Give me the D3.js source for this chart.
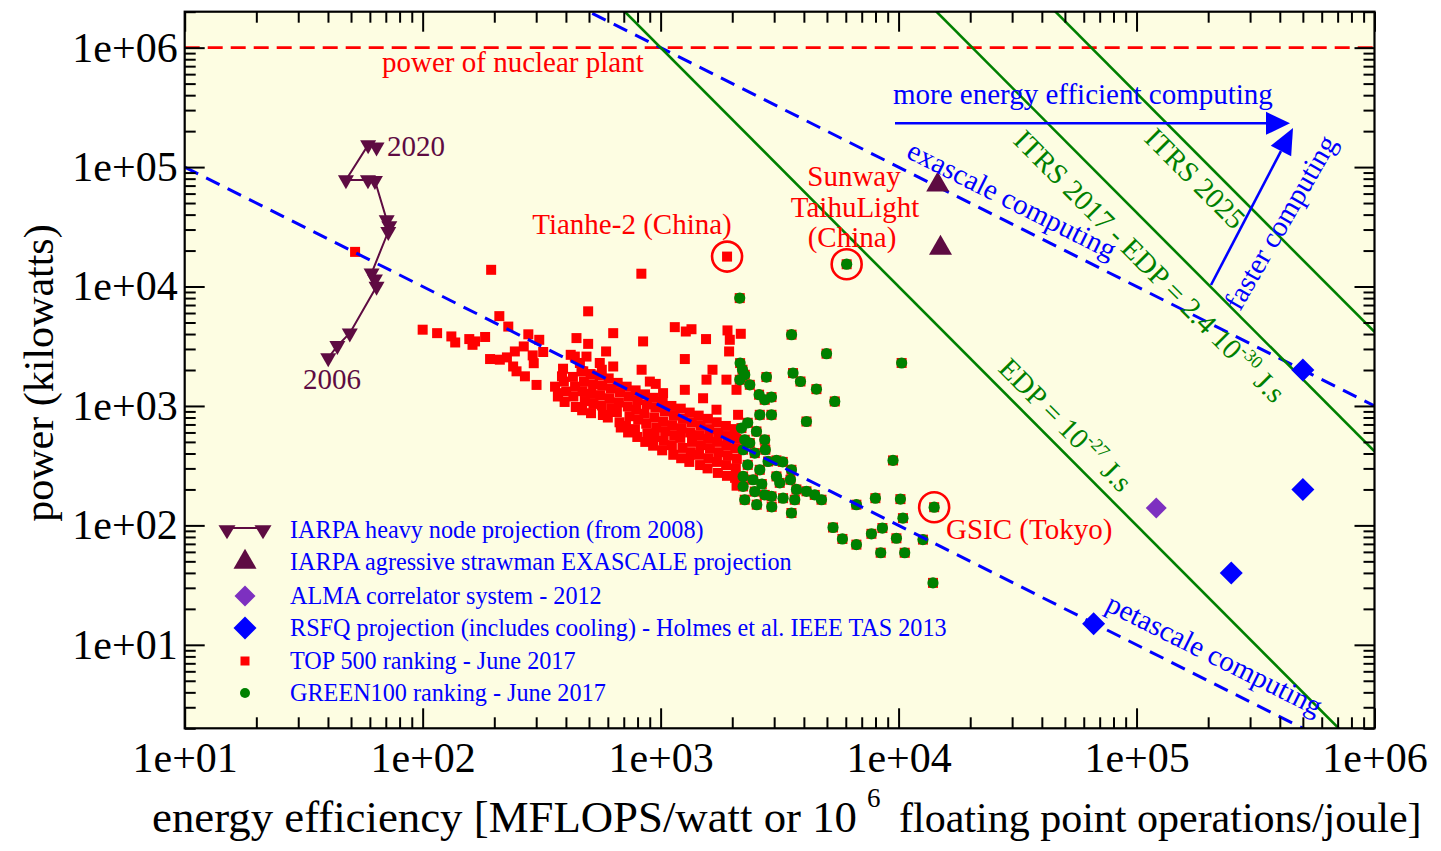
<!DOCTYPE html>
<html><head><meta charset="utf-8">
<script src="https://cdn.jsdelivr.net/npm/d3@7"></script>
<style>
body{margin:0;background:#fff;}
svg{display:block;}
text{font-family:"Liberation Serif","Times New Roman",Times,serif;}
</style>
</head><body>
<svg id="chart" width="1441" height="851"></svg>
<script>
// ---------------- DATA ----------------
// x: energy efficiency [MFLOPS/W], y: power [kW]
const xTickValues = [1e1, 1e2, 1e3, 1e4, 1e5, 1e6];
const yTickValues = [1e1, 1e2, 1e3, 1e4, 1e5, 1e6];

const iarpaHeavy = [[40.1,2520],[43.8,3190],[49.4,4070],[64.0,10000],[63.0,11500],[61.0,12950],
  [71.7,28850],[72.4,32200],[70.6,36150],[63.0,77100],[58.9,78100],[47.6,78100],[59.0,153500],[64.0,146800]];
const iarpaStrawman = [[14600,71000],[15000,21000]];
const alma = [[121000,140]];
const rsfq = [[500000,2000],[500000,200],[250000,40],[66000,15]];

const top500 = [
  [52,19500],[194,13800],[830,12800],[1902,17808],[496,6200],
  [100,4350],[115,4070],[132,3820],[137,3400],[157,3630],[166,3470],[162,3250],[183,3780],[210,5650],[229,4620],
  [278,3980],[309,3580],[321,2830],[192,2470],[211,2440],[226,2550],[244,2860],[266,3150],[240,2140],[248,1950],
  [269,1770],[290,2650],[293,2280],[301,1500],[443,3700],[496,3310],[632,4070],[590,2860],[419,2680],[436,2590],
  [488,2590],[389,2050],[385,1770],[371,1280],[458,2290],[473,1950],[555,2290],[566,2010],[632,2140],[844,3470],
  [1147,4570],[1276,4200],[1348,4390],[1552,3630],[1910,4290],[1953,3580],[2172,4020],[1940,2860],[1264,2470],
  [832,2010],[1652,2010],[901,1600],[954,1530],[1559,1660],[1891,1660],[1264,1365],[2084,1365],[1508,1160],
  [1717,930],[2116,843],[1024,1280],
  [360,1450],[370,1200],
  [392,1600],[401,1320],[395,1080],
  [428,1750],[437,1450],[430,1200],[440,980],
  [465,1950],[476,1600],[470,1330],[480,1100],[468,920],
  [508,1850],[520,1520],[512,1260],[522,1040],[510,870],
  [555,1800],[568,1480],[558,1230],[566,1010],[572,840],
  [605,1700],[618,1400],[610,1160],[622,960],[600,800],
  [660,1560],[675,1300],[668,1070],[655,890],[672,730],[680,660],
  [720,1450],[735,1200],[728,990],[740,820],[715,680],[730,600],
  [785,1350],[800,1120],[790,930],[805,770],[780,640],[798,550],
  [860,1250],[875,1030],[855,860],[870,710],[880,590],[862,500],
  [935,1170],[950,970],[940,800],[958,660],[945,550],[930,465],
  [1020,1080],[1040,900],[1025,740],[1045,615],[1030,510],[1015,425],
  [1110,1000],[1135,830],[1120,690],[1140,570],[1115,470],[1130,390],
  [1215,950],[1240,780],[1225,650],[1210,540],[1235,445],[1220,365],
  [1325,880],[1350,730],[1330,600],[1355,500],[1340,410],[1320,340],
  [1445,830],[1470,690],[1455,570],[1475,470],[1450,390],[1465,320],
  [1580,780],[1600,640],[1585,530],[1610,440],[1590,365],[1575,300],
  [1720,730],[1745,600],[1730,500],[1750,410],[1725,340],[1740,275],
  [1880,680],[1905,560],[1890,465],[1910,385],[1885,320],[1900,260],
  [2050,640],[2080,530],[2060,440],[2090,360],[2070,300],[2055,250],[2085,215]
];

const green100 = [
  [6051,15371],[2150,8000],[3550,3950],[4980,2740],[10300,2290],[2158,2285],[2208,2010],[2257,1825],[2370,1503],
  [2784,1746],[3601,1885],[3870,1603],[4516,1383],[5393,1091],[2593,1242],[2739,1127],[2923,1186],[2610,843],
  [2923,843],[4101,741],[2186,653],[2528,612],[2739,521],[2370,489],[2221,430],[2487,403],[3068,350],[2828,343],
  [3546,292],[9477,350],[2221,257],[2446,241],[3068,257],[3167,227],[2221,212],[2487,192],[2739,180],[2923,175],
  [3270,169],[3722,200],[4101,193],[3662,164],[4742,164],[3546,127],[6649,149],[7990,169],[10180,166],[14110,142],
  [10430,115],[5303,96],[8551,95],[7688,85],[9793,78],[5807,77],[12660,76],[6649,69],[8412,59],[10610,59],[13950,33],
  [2151,1656],[2257,521],[2610,292],[2323,321],[2661,222],[2257,164],[2535,149],[2931,143],[2323,723],[2754,430],
  [3260,340],[3513,241],[4443,180]
];

const highlightNames = ["Tianhe-2", "Sunway TaihuLight", "GSIC"];
const highlightEff = [1902, 6051, 14110];
const highlightPow = [17808, 15371, 142];

const nuclearPlantPower = 1e6;           // kW
const scaleFlops = [1e15, 1e18];          // petascale, exascale
const edpValues = [1e-27, 2.4e-30, 2.4e-31]; // J.s  (EDP 1e-27, ITRS 2017, ITRS 2025)

const legendLabels = [
  "IARPA heavy node projection (from 2008)",
  "IARPA agressive strawman EXASCALE projection",
  "ALMA correlator system - 2012",
  "RSFQ projection (includes cooling) - Holmes et al. IEEE TAS 2013",
  "TOP 500 ranking - June 2017",
  "GREEN100 ranking - June 2017"
];

// ---------------- STYLE / LAYOUT ----------------
const C = {red:"#ff0000", green:"#008000", blue:"#0000ff", maroon:"#5e0b42", violet:"#7d30c0", bg:"#fdfde2"};
const M = {l:184.7, r:1374.5, t:11.7, b:728.3};
const svg = d3.select("#chart");
svg.append("rect").attr("width",1441).attr("height",851).attr("fill","#fff");

const x = d3.scaleLog().domain([10,1e6]).range([M.l,M.r]);
const y = d3.scaleLog().domain([2,2e6]).range([M.b,M.t]);

svg.append("defs").append("clipPath").attr("id","clip")
  .append("rect").attr("x",M.l).attr("y",M.t).attr("width",M.r-M.l).attr("height",M.b-M.t);

svg.append("rect").attr("x",M.l).attr("y",M.t).attr("width",M.r-M.l).attr("height",M.b-M.t).attr("fill",C.bg);

const plot = svg.append("g").attr("clip-path","url(#clip)");

// symbol helpers
function triDown(w,h){ return `M${-w/2},${-h/3}L${w/2},${-h/3}L0,${2*h/3}Z`; }
function triUp(w,h){ return `M${-w/2},${h/3}L${w/2},${h/3}L0,${-2*h/3}Z`; }
function diamond(w,h){ return `M0,${-h/2}L${w/2},0L0,${h/2}L${-w/2},0Z`; }

// TOP500 squares
const SQ = 10;
plot.append("g").selectAll("rect").data(top500).join("rect")
  .attr("x",d=>x(d[0])-SQ/2).attr("y",d=>y(d[1])-SQ/2).attr("width",SQ).attr("height",SQ).attr("fill",C.red);
// GREEN100: also in TOP500 (red square beneath), green dot on top
const gG = plot.append("g");
gG.selectAll("rect").data(green100).join("rect")
  .attr("x",d=>x(d[0])-SQ/2).attr("y",d=>y(d[1])-SQ/2).attr("width",SQ).attr("height",SQ).attr("fill",C.red);
gG.selectAll("circle").data(green100).join("circle")
  .attr("cx",d=>x(d[0])).attr("cy",d=>y(d[1])).attr("r",5.6).attr("fill",C.green);

// reference lines
const xd = x.domain();
plot.append("line").attr("x1",M.l).attr("x2",M.r).attr("y1",y(nuclearPlantPower)).attr("y2",y(nuclearPlantPower))
  .attr("stroke",C.red).attr("stroke-width",2.6).attr("stroke-dasharray","15,8");
scaleFlops.forEach(F=>{
  const p = E => F/(1e9*E);
  plot.append("line").attr("x1",x(xd[0])).attr("y1",y(p(xd[0]))).attr("x2",x(xd[1])).attr("y2",y(p(xd[1])))
    .attr("stroke",C.blue).attr("stroke-width",3).attr("stroke-dasharray","15,9");
});
edpValues.forEach(edp=>{
  const p = E => 1/(edp*1e15*E*E);
  plot.append("line").attr("x1",x(xd[0])).attr("y1",y(p(xd[0]))).attr("x2",x(xd[1])).attr("y2",y(p(xd[1])))
    .attr("stroke",C.green).attr("stroke-width",2.6);
});

// IARPA heavy node
plot.append("path").datum(iarpaHeavy)
  .attr("d", d3.line().x(d=>x(d[0])).y(d=>y(d[1])))
  .attr("fill","none").attr("stroke",C.maroon).attr("stroke-width",2);
plot.append("g").selectAll("path").data(iarpaHeavy).join("path")
  .attr("transform",d=>`translate(${x(d[0])},${y(d[1])})`).attr("d",triDown(16,14)).attr("fill",C.maroon);
// strawman
plot.append("g").selectAll("path").data(iarpaStrawman).join("path")
  .attr("transform",d=>`translate(${x(d[0])},${y(d[1])})`).attr("d",triUp(23,20)).attr("fill",C.maroon);
// ALMA
plot.append("g").selectAll("path").data(alma).join("path")
  .attr("transform",d=>`translate(${x(d[0])},${y(d[1])})`).attr("d",diamond(21,21)).attr("fill",C.violet);
// RSFQ
plot.append("g").selectAll("path").data(rsfq).join("path")
  .attr("transform",d=>`translate(${x(d[0])},${y(d[1])})`).attr("d",diamond(23,23)).attr("fill",C.blue);
// highlight circles
plot.append("g").selectAll("circle").data(highlightEff).join("circle")
  .attr("cx",(d)=>x(d)).attr("cy",(d,i)=>y(highlightPow[i])).attr("r",15)
  .attr("fill","none").attr("stroke",C.red).attr("stroke-width",2.6);

// ---------------- ANNOTATIONS ----------------
const ann = svg.append("g");
function label(txt, px, py, size, color, anchor, angle){
  return ann.append("text").attr("transform",`translate(${px},${py}) rotate(${angle||0})`)
    .attr("font-size",size).attr("fill",color).attr("text-anchor",anchor||"start").text(txt);
}
const A = 29;
label("power of nuclear plant", 382, 72, A, C.red);
label("Tianhe-2 (China)", 632, 234, A, C.red, "middle");
label("Sunway", 854, 186, A, C.red, "middle");
label("TaihuLight", 855, 216.5, A, C.red, "middle");
label("(China)", 852, 246.5, A, C.red, "middle");
label("GSIC (Tokyo)", 946, 539, A, C.red);
label("2020", 387, 156, A, C.maroon);
label("2006", 303, 389, A, C.maroon);
label("more energy efficient computing", 893, 104, A, C.blue);

const angFlops = Math.atan2(y(1e4)-y(1e5), x(100)-x(10))*180/Math.PI;
const angEdp = Math.atan2(2*(y(1e4)-y(1e5)), x(100)-x(10))*180/Math.PI;
label("exascale computing", 905, 157, A, C.blue, "start", angFlops);
label("petascale computing", 1104, 610, A, C.blue, "start", angFlops);
label("faster computing", 1240, 312, A, C.blue, "start", -60);
label("ITRS 2025", 1143, 140, A, C.green, "start", angEdp);

function supLabel(before, sup, after, px, py, size, color, angle){
  const t = ann.append("text").attr("transform",`translate(${px},${py}) rotate(${angle})`)
    .attr("font-size",size).attr("fill",color);
  t.append("tspan").text(before);
  t.append("tspan").attr("font-size",size*0.62).attr("dy",-size*0.42).text(sup);
  t.append("tspan").attr("dy",size*0.42).text(after);
  return t;
}
supLabel("ITRS 2017 - EDP = 2.4 10", "-30", " J.s", 1012, 142, A, C.green, angEdp);
supLabel("EDP = 10", "-27", " J.s", 997, 370, A, C.green, angEdp);

// arrows
function arrow(x1,y1,x2,y2,color,len,half){
  const a = Math.atan2(y2-y1,x2-x1);
  const bx = x2 - len*Math.cos(a), by = y2 - len*Math.sin(a);
  ann.append("line").attr("x1",x1).attr("y1",y1).attr("x2",bx).attr("y2",by).attr("stroke",color).attr("stroke-width",2.6);
  const px = -Math.sin(a)*half, py = Math.cos(a)*half;
  ann.append("path").attr("d",`M${x2},${y2}L${bx+px},${by+py}L${bx-px},${by-py}Z`).attr("fill",color);
}
arrow(895,123.3,1290,123.3,C.blue,24,11.5);
arrow(1211,285,1293,128,C.blue,26,11.5);

// ---------------- AXES ----------------
function minors(lo,hi){ const v=[]; for(let e=0;e<7;e++){ for(let k=2;k<10;k++){ const t=k*Math.pow(10,e); if(t>=lo&&t<=hi) v.push(t);} } return v; }
const fmt = d => "1e+" + String(Math.round(Math.log10(d))).padStart(2,"0");
const minX = minors(10,1e6), minY = minors(2,2e6);
const ax = svg.append("g").attr("font-family",'"Liberation Serif","Times New Roman",serif');
function drawAxis(gen, tr, vals, size, labels, pad){
  const g = ax.append("g").attr("transform",tr)
    .call(gen.tickValues(vals).tickSize(-size).tickPadding(pad||0).tickFormat(labels?fmt:""));
  g.select(".domain").remove();
  g.selectAll(".tick line").attr("stroke","#000").attr("stroke-width",2);
  g.selectAll(".tick text").attr("font-size",42).attr("fill","#000");
  g.attr("font-size",42).attr("font-family",null);
  return g;
}
drawAxis(d3.axisBottom(x), `translate(0,${M.b})`, minX, 11, false);
drawAxis(d3.axisBottom(x), `translate(0,${M.b})`, xTickValues, 20, true, 14);
drawAxis(d3.axisTop(x), `translate(0,${M.t})`, minX, 11, false);
drawAxis(d3.axisTop(x), `translate(0,${M.t})`, xTickValues, 20, false);
drawAxis(d3.axisLeft(y), `translate(${M.l},0)`, minY, 11, false);
drawAxis(d3.axisLeft(y), `translate(${M.l},0)`, yTickValues, 20, true, 7);
drawAxis(d3.axisRight(y), `translate(${M.r},0)`, minY, 11, false);
drawAxis(d3.axisRight(y), `translate(${M.r},0)`, yTickValues, 20, false);

svg.append("rect").attr("x",M.l).attr("y",M.t).attr("width",M.r-M.l).attr("height",M.b-M.t)
  .attr("fill","none").attr("stroke","#000").attr("stroke-width",2.2);

// axis titles
svg.append("text").attr("transform","translate(53,373) rotate(-90)").attr("text-anchor","middle")
  .attr("font-size",42).attr("fill","#000").text("power (kilowatts)");
const xt = svg.append("text").attr("x",152).attr("y",832).attr("text-anchor","start").attr("font-size",44.8).attr("fill","#000");
xt.append("tspan").text("energy efficiency [MFLOPS/watt or 10");
xt.append("tspan").attr("font-size",27).attr("dy",-25).attr("dx",10).text("6");
xt.append("tspan").attr("font-size",42).attr("dy",25).attr("dx",8).text(" floating point operations/joule]");

// ---------------- LEGEND ----------------
const legY = [530, 562, 596, 628, 661, 693];
const lg = svg.append("g");
lg.selectAll("text").data(legendLabels).join("text")
  .attr("x",290).attr("y",(d,i)=>legY[i]).attr("dy","0.35em").attr("font-size",24.2).attr("fill",C.blue).text(d=>d);
lg.append("line").attr("x1",227).attr("x2",263).attr("y1",legY[0]-2).attr("y2",legY[0]-2).attr("stroke",C.maroon).attr("stroke-width",2);
[227,263].forEach(cx=>lg.append("path").attr("transform",`translate(${cx},${legY[0]})`).attr("d",triDown(17,14)).attr("fill",C.maroon));
lg.append("path").attr("transform",`translate(245,${legY[1]})`).attr("d",triUp(23,20)).attr("fill",C.maroon);
lg.append("path").attr("transform",`translate(245,${legY[2]})`).attr("d",diamond(21,21)).attr("fill",C.violet);
lg.append("path").attr("transform",`translate(245,${legY[3]})`).attr("d",diamond(23,23)).attr("fill",C.blue);
lg.append("rect").attr("x",245-4.5).attr("y",legY[4]-4.5).attr("width",9).attr("height",9).attr("fill",C.red);
lg.append("circle").attr("cx",245).attr("cy",legY[5]).attr("r",5).attr("fill",C.green);
</script>
</body></html>
